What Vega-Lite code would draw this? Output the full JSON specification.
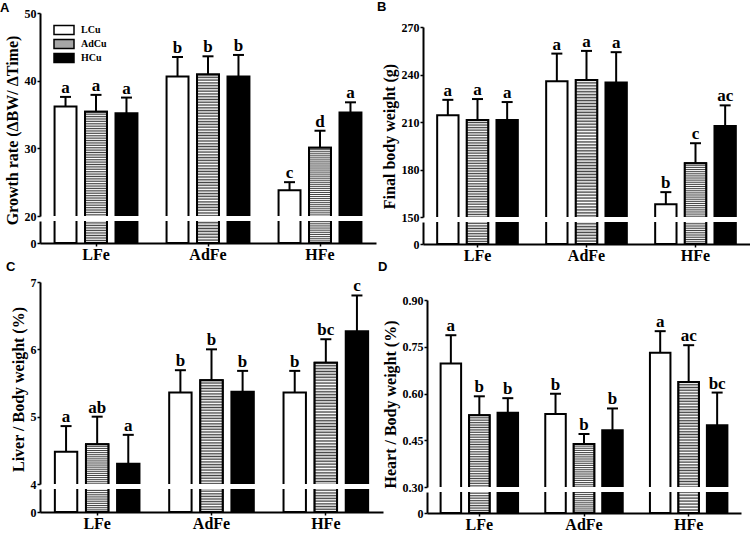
{
"$schema": "https://vega.github.io/schema/vega-lite/v6.json",
"padding": {"left": 0, "top": 0, "right": 0, "bottom": 0},
"background": "white",
"datasets": {
"A": [
{"Fe":"LFe","Cu":"LCu","mean":36.2,"hi":37.6,"lab":"a"},
{"Fe":"LFe","Cu":"AdCu","mean":35.4,"hi":37.9,"lab":"a"},
{"Fe":"LFe","Cu":"HCu","mean":35.2,"hi":37.5,"lab":"a"},
{"Fe":"AdFe","Cu":"LCu","mean":40.6,"hi":43.5,"lab":"b"},
{"Fe":"AdFe","Cu":"AdCu","mean":40.9,"hi":43.6,"lab":"b"},
{"Fe":"AdFe","Cu":"HCu","mean":40.6,"hi":43.8,"lab":"b"},
{"Fe":"HFe","Cu":"LCu","mean":23.8,"hi":25.0,"lab":"c"},
{"Fe":"HFe","Cu":"AdCu","mean":30.1,"hi":32.6,"lab":"d"},
{"Fe":"HFe","Cu":"HCu","mean":35.3,"hi":36.8,"lab":"a"}
],
"B": [
{"Fe":"LFe","Cu":"LCu","mean":214.2,"hi":224.0,"lab":"a"},
{"Fe":"LFe","Cu":"AdCu","mean":211.3,"hi":224.5,"lab":"a"},
{"Fe":"LFe","Cu":"HCu","mean":211.3,"hi":222.6,"lab":"a"},
{"Fe":"AdFe","Cu":"LCu","mean":235.8,"hi":253.2,"lab":"a"},
{"Fe":"AdFe","Cu":"AdCu","mean":236.6,"hi":254.9,"lab":"a"},
{"Fe":"AdFe","Cu":"HCu","mean":235.0,"hi":254.1,"lab":"a"},
{"Fe":"HFe","Cu":"LCu","mean":158.0,"hi":165.7,"lab":"b"},
{"Fe":"HFe","Cu":"AdCu","mean":184.0,"hi":196.6,"lab":"c"},
{"Fe":"HFe","Cu":"HCu","mean":207.5,"hi":220.5,"lab":"ac"}
],
"C": [
{"Fe":"LFe","Cu":"LCu","mean":4.48,"hi":4.86,"lab":"a"},
{"Fe":"LFe","Cu":"AdCu","mean":4.59,"hi":5.00,"lab":"ab"},
{"Fe":"LFe","Cu":"HCu","mean":4.30,"hi":4.73,"lab":"a"},
{"Fe":"AdFe","Cu":"LCu","mean":5.36,"hi":5.69,"lab":"b"},
{"Fe":"AdFe","Cu":"AdCu","mean":5.54,"hi":6.00,"lab":"b"},
{"Fe":"AdFe","Cu":"HCu","mean":5.37,"hi":5.68,"lab":"b"},
{"Fe":"HFe","Cu":"LCu","mean":5.36,"hi":5.68,"lab":"b"},
{"Fe":"HFe","Cu":"AdCu","mean":5.80,"hi":6.15,"lab":"bc"},
{"Fe":"HFe","Cu":"HCu","mean":6.27,"hi":6.80,"lab":"c"}
],
"D": [
{"Fe":"LFe","Cu":"LCu","mean":0.696,"hi":0.787,"lab":"a"},
{"Fe":"LFe","Cu":"AdCu","mean":0.530,"hi":0.591,"lab":"b"},
{"Fe":"LFe","Cu":"HCu","mean":0.538,"hi":0.585,"lab":"b"},
{"Fe":"AdFe","Cu":"LCu","mean":0.534,"hi":0.599,"lab":"b"},
{"Fe":"AdFe","Cu":"AdCu","mean":0.438,"hi":0.470,"lab":"b"},
{"Fe":"AdFe","Cu":"HCu","mean":0.482,"hi":0.552,"lab":"b"},
{"Fe":"HFe","Cu":"LCu","mean":0.731,"hi":0.800,"lab":"a"},
{"Fe":"HFe","Cu":"AdCu","mean":0.637,"hi":0.755,"lab":"ac"},
{"Fe":"HFe","Cu":"HCu","mean":0.498,"hi":0.603,"lab":"bc"}
]
},
"config": {
"font": "Liberation Serif",
"view": {"stroke": null},
"axis": {"domainColor": "black", "domainWidth": 2, "tickColor": "black", "tickWidth": 1.5, "tickSize": 3, "labelColor": "black", "labelFont": "Liberation Serif", "labelFontWeight": "bold", "labelFontSize": 12, "labelPadding": 1, "titleFont": "Liberation Serif", "titleFontWeight": "bold", "titleFontSize": 16, "titleColor": "black", "grid": false, "titlePadding": 4},
"axisX": {"labelFontSize": 16, "labelPadding": 0, "labelAngle": 0},
"legend": {"orient": "none", "legendX": 18, "legendY": 11, "title": null, "labelFont": "Liberation Serif", "labelFontSize": 10, "labelFontWeight": "bold", "labelColor": "black", "symbolType": "M-2,-0.9H2V0.9H-2Z", "symbolSize": 100, "symbolStrokeColor": "black", "symbolStrokeWidth": 1.5, "rowPadding": -8, "labelOffset": 11},
"title": {"font": "Liberation Sans", "fontSize": 13, "fontWeight": "bold", "color": "black", "anchor": "start", "frame": "bounds"},
"mark": {"color": {"gradient": "linear", "x1": 0, "y1": 0, "x2": 0, "y2": 1, "stops": [
{"offset":0,"color":"#444"},{"offset":0.005,"color":"#fff"},{"offset":0.01,"color":"#444"},{"offset":0.015,"color":"#fff"},{"offset":0.02,"color":"#444"},{"offset":0.025,"color":"#fff"},{"offset":0.03,"color":"#444"},{"offset":0.035,"color":"#fff"},{"offset":0.04,"color":"#444"},{"offset":0.045,"color":"#fff"},
{"offset":0.05,"color":"#444"},{"offset":0.055,"color":"#fff"},{"offset":0.06,"color":"#444"},{"offset":0.065,"color":"#fff"},{"offset":0.07,"color":"#444"},{"offset":0.075,"color":"#fff"},{"offset":0.08,"color":"#444"},{"offset":0.085,"color":"#fff"},{"offset":0.09,"color":"#444"},{"offset":0.095,"color":"#fff"},
{"offset":0.1,"color":"#444"},{"offset":0.105,"color":"#fff"},{"offset":0.11,"color":"#444"},{"offset":0.115,"color":"#fff"},{"offset":0.12,"color":"#444"},{"offset":0.125,"color":"#fff"},{"offset":0.13,"color":"#444"},{"offset":0.135,"color":"#fff"},{"offset":0.14,"color":"#444"},{"offset":0.145,"color":"#fff"},
{"offset":0.15,"color":"#444"},{"offset":0.155,"color":"#fff"},{"offset":0.16,"color":"#444"},{"offset":0.165,"color":"#fff"},{"offset":0.17,"color":"#444"},{"offset":0.175,"color":"#fff"},{"offset":0.18,"color":"#444"},{"offset":0.185,"color":"#fff"},{"offset":0.19,"color":"#444"},{"offset":0.195,"color":"#fff"},
{"offset":0.2,"color":"#444"},{"offset":0.205,"color":"#fff"},{"offset":0.21,"color":"#444"},{"offset":0.215,"color":"#fff"},{"offset":0.22,"color":"#444"},{"offset":0.225,"color":"#fff"},{"offset":0.23,"color":"#444"},{"offset":0.235,"color":"#fff"},{"offset":0.24,"color":"#444"},{"offset":0.245,"color":"#fff"},
{"offset":0.25,"color":"#444"},{"offset":0.255,"color":"#fff"},{"offset":0.26,"color":"#444"},{"offset":0.265,"color":"#fff"},{"offset":0.27,"color":"#444"},{"offset":0.275,"color":"#fff"},{"offset":0.28,"color":"#444"},{"offset":0.285,"color":"#fff"},{"offset":0.29,"color":"#444"},{"offset":0.295,"color":"#fff"},
{"offset":0.3,"color":"#444"},{"offset":0.305,"color":"#fff"},{"offset":0.31,"color":"#444"},{"offset":0.315,"color":"#fff"},{"offset":0.32,"color":"#444"},{"offset":0.325,"color":"#fff"},{"offset":0.33,"color":"#444"},{"offset":0.335,"color":"#fff"},{"offset":0.34,"color":"#444"},{"offset":0.345,"color":"#fff"},
{"offset":0.35,"color":"#444"},{"offset":0.355,"color":"#fff"},{"offset":0.36,"color":"#444"},{"offset":0.365,"color":"#fff"},{"offset":0.37,"color":"#444"},{"offset":0.375,"color":"#fff"},{"offset":0.38,"color":"#444"},{"offset":0.385,"color":"#fff"},{"offset":0.39,"color":"#444"},{"offset":0.395,"color":"#fff"},
{"offset":0.4,"color":"#444"},{"offset":0.405,"color":"#fff"},{"offset":0.41,"color":"#444"},{"offset":0.415,"color":"#fff"},{"offset":0.42,"color":"#444"},{"offset":0.425,"color":"#fff"},{"offset":0.43,"color":"#444"},{"offset":0.435,"color":"#fff"},{"offset":0.44,"color":"#444"},{"offset":0.445,"color":"#fff"},
{"offset":0.45,"color":"#444"},{"offset":0.455,"color":"#fff"},{"offset":0.46,"color":"#444"},{"offset":0.465,"color":"#fff"},{"offset":0.47,"color":"#444"},{"offset":0.475,"color":"#fff"},{"offset":0.48,"color":"#444"},{"offset":0.485,"color":"#fff"},{"offset":0.49,"color":"#444"},{"offset":0.495,"color":"#fff"},
{"offset":0.5,"color":"#444"},{"offset":0.505,"color":"#fff"},{"offset":0.51,"color":"#444"},{"offset":0.515,"color":"#fff"},{"offset":0.52,"color":"#444"},{"offset":0.525,"color":"#fff"},{"offset":0.53,"color":"#444"},{"offset":0.535,"color":"#fff"},{"offset":0.54,"color":"#444"},{"offset":0.545,"color":"#fff"},
{"offset":0.55,"color":"#444"},{"offset":0.555,"color":"#fff"},{"offset":0.56,"color":"#444"},{"offset":0.565,"color":"#fff"},{"offset":0.57,"color":"#444"},{"offset":0.575,"color":"#fff"},{"offset":0.58,"color":"#444"},{"offset":0.585,"color":"#fff"},{"offset":0.59,"color":"#444"},{"offset":0.595,"color":"#fff"},
{"offset":0.6,"color":"#444"},{"offset":0.605,"color":"#fff"},{"offset":0.61,"color":"#444"},{"offset":0.615,"color":"#fff"},{"offset":0.62,"color":"#444"},{"offset":0.625,"color":"#fff"},{"offset":0.63,"color":"#444"},{"offset":0.635,"color":"#fff"},{"offset":0.64,"color":"#444"},{"offset":0.645,"color":"#fff"},
{"offset":0.65,"color":"#444"},{"offset":0.655,"color":"#fff"},{"offset":0.66,"color":"#444"},{"offset":0.665,"color":"#fff"},{"offset":0.67,"color":"#444"},{"offset":0.675,"color":"#fff"},{"offset":0.68,"color":"#444"},{"offset":0.685,"color":"#fff"},{"offset":0.69,"color":"#444"},{"offset":0.695,"color":"#fff"},
{"offset":0.7,"color":"#444"},{"offset":0.705,"color":"#fff"},{"offset":0.71,"color":"#444"},{"offset":0.715,"color":"#fff"},{"offset":0.72,"color":"#444"},{"offset":0.725,"color":"#fff"},{"offset":0.73,"color":"#444"},{"offset":0.735,"color":"#fff"},{"offset":0.74,"color":"#444"},{"offset":0.745,"color":"#fff"},
{"offset":0.75,"color":"#444"},{"offset":0.755,"color":"#fff"},{"offset":0.76,"color":"#444"},{"offset":0.765,"color":"#fff"},{"offset":0.77,"color":"#444"},{"offset":0.775,"color":"#fff"},{"offset":0.78,"color":"#444"},{"offset":0.785,"color":"#fff"},{"offset":0.79,"color":"#444"},{"offset":0.795,"color":"#fff"},
{"offset":0.8,"color":"#444"},{"offset":0.805,"color":"#fff"},{"offset":0.81,"color":"#444"},{"offset":0.815,"color":"#fff"},{"offset":0.82,"color":"#444"},{"offset":0.825,"color":"#fff"},{"offset":0.83,"color":"#444"},{"offset":0.835,"color":"#fff"},{"offset":0.84,"color":"#444"},{"offset":0.845,"color":"#fff"},
{"offset":0.85,"color":"#444"},{"offset":0.855,"color":"#fff"},{"offset":0.86,"color":"#444"},{"offset":0.865,"color":"#fff"},{"offset":0.87,"color":"#444"},{"offset":0.875,"color":"#fff"},{"offset":0.88,"color":"#444"},{"offset":0.885,"color":"#fff"},{"offset":0.89,"color":"#444"},{"offset":0.895,"color":"#fff"},
{"offset":0.9,"color":"#444"},{"offset":0.905,"color":"#fff"},{"offset":0.91,"color":"#444"},{"offset":0.915,"color":"#fff"},{"offset":0.92,"color":"#444"},{"offset":0.925,"color":"#fff"},{"offset":0.93,"color":"#444"},{"offset":0.935,"color":"#fff"},{"offset":0.94,"color":"#444"},{"offset":0.945,"color":"#fff"},
{"offset":0.95,"color":"#444"},{"offset":0.955,"color":"#fff"},{"offset":0.96,"color":"#444"},{"offset":0.965,"color":"#fff"},{"offset":0.97,"color":"#444"},{"offset":0.975,"color":"#fff"},{"offset":0.98,"color":"#444"},{"offset":0.985,"color":"#fff"},{"offset":0.99,"color":"#444"},{"offset":0.995,"color":"#fff"},
{"offset":1,"color":"#444"}
]}}
},
"resolve": {"scale": {"xOffset": "independent"}},
"spacing": -2,
"vconcat": [
{"hconcat": [
{"title": {"text": "A", "offset": -8, "dx": -4},
 "bounds": "flush", "spacing": 5,
 "resolve": {"scale": {"xOffset": "independent"}},
 "vconcat": [
 {"width": 336, "height": 203, "data": {"name": "A"},
  "encoding": {
   "x": {"field": "Fe", "type": "nominal", "scale": {"domain": ["LFe","AdFe","HFe"], "paddingInner": 0.26, "paddingOuter": 0.13}, "axis": null},
   "xOffset": {"field": "Cu", "type": "nominal", "scale": {"domain": ["LCu","AdCu","HCu"], "paddingInner": 0.28, "paddingOuter": 0}},
   "y": {"field": "mean", "type": "quantitative", "scale": {"domain": [20, 50]}, "axis": {"values": [20,30,40,50], "title": "Growth rate (ΔBW/ ΔTime)", "titleY": 117}}
  },
  "layer": [
   {"mark": {"type": "bar", "clip": true, "stroke": "black", "strokeWidth": 2, "opacity": 1},
    "encoding": {
     "y2": {"datum": 0},
     "fill": {"field": "Cu", "type": "nominal", "legend": {"title": null},
      "scale": {"domain": ["LCu","AdCu","HCu"], "range": ["white", "#a6a6a6", "black"]}}
    }},
   {"transform": [{"filter": "datum.Cu == 'AdCu'"}], "mark": {"type": "bar", "clip": true, "stroke": "black", "strokeWidth": 2, "opacity": 1}, "encoding": {"y2": {"datum": 0}}},
   {"mark": {"type": "rule", "strokeWidth": 2, "color": "black"}, "encoding": {"y2": {"field": "hi"}}},
   {"mark": {"type": "tick", "thickness": 2, "size": 11, "color": "black", "opacity": 1}, "encoding": {"y": {"field": "hi", "type": "quantitative"}}},
   {"mark": {"type": "text", "dy": -4, "baseline": "alphabetic", "fontSize": 17, "fontWeight": "bold", "font": "Liberation Serif", "color": "black"}, "encoding": {"y": {"field": "hi", "type": "quantitative"}, "text": {"field": "lab"}}}
  ]
 },
 {"width": 336, "height": 22, "data": {"name": "A"},
  "encoding": {
   "x": {"field": "Fe", "type": "nominal", "scale": {"domain": ["LFe","AdFe","HFe"], "paddingInner": 0.26, "paddingOuter": 0.13}, "axis": {"title": null}},
   "xOffset": {"field": "Cu", "type": "nominal", "scale": {"domain": ["LCu","AdCu","HCu"], "paddingInner": 0.28, "paddingOuter": 0}},
   "y": {"field": "mean", "type": "quantitative", "scale": {"domain": [0, 3.1]}, "axis": {"values": [0], "format": "d", "title": null}},
   "y2": {"datum": 0}
  },
  "layer": [
   {"mark": {"type": "bar", "clip": true, "stroke": "black", "strokeWidth": 2, "opacity": 1}, "encoding": {"fill": {"field": "Cu", "type": "nominal"}}},
   {"transform": [{"filter": "datum.Cu == 'AdCu'"}], "mark": {"type": "bar", "clip": true, "stroke": "black", "strokeWidth": 2, "opacity": 1}}
  ]
 }
 ]
},
{"title": {"text": "B", "offset": -2, "dx": -4},
 "bounds": "flush", "spacing": 5,
 "resolve": {"scale": {"xOffset": "independent"}},
 "vconcat": [
 {"width": 327, "height": 9, "data": {"name": "B"}, "mark": {"type": "text", "opacity": 0}, "encoding": {}},
 {"width": 327, "height": 190, "data": {"name": "B"},
  "encoding": {
   "x": {"field": "Fe", "type": "nominal", "scale": {"domain": ["LFe","AdFe","HFe"], "paddingInner": 0.26, "paddingOuter": 0.13}, "axis": null},
   "xOffset": {"field": "Cu", "type": "nominal", "scale": {"domain": ["LCu","AdCu","HCu"], "paddingInner": 0.28, "paddingOuter": 0}},
   "y": {"field": "mean", "type": "quantitative", "scale": {"domain": [150, 270]}, "axis": {"values": [150,180,210,240,270], "title": "Final body weight (g)", "titleY": 109}}
  },
  "layer": [
   {"mark": {"type": "bar", "clip": true, "stroke": "black", "strokeWidth": 2, "opacity": 1},
    "encoding": {"y2": {"datum": 50}, "fill": {"field": "Cu", "type": "nominal"}}},
   {"transform": [{"filter": "datum.Cu == 'AdCu'"}], "mark": {"type": "bar", "clip": true, "stroke": "black", "strokeWidth": 2, "opacity": 1}, "encoding": {"y2": {"datum": 50}}},
   {"mark": {"type": "rule", "strokeWidth": 2, "color": "black"}, "encoding": {"y2": {"field": "hi"}}},
   {"mark": {"type": "tick", "thickness": 2, "size": 11, "color": "black", "opacity": 1}, "encoding": {"y": {"field": "hi", "type": "quantitative"}}},
   {"mark": {"type": "text", "dy": -4, "baseline": "alphabetic", "fontSize": 17, "fontWeight": "bold", "font": "Liberation Serif", "color": "black"}, "encoding": {"y": {"field": "hi", "type": "quantitative"}, "text": {"field": "lab"}}}
  ]
 },
 {"width": 327, "height": 22, "data": {"name": "B"},
  "encoding": {
   "x": {"field": "Fe", "type": "nominal", "scale": {"domain": ["LFe","AdFe","HFe"], "paddingInner": 0.26, "paddingOuter": 0.13}, "axis": {"title": null}},
   "xOffset": {"field": "Cu", "type": "nominal", "scale": {"domain": ["LCu","AdCu","HCu"], "paddingInner": 0.28, "paddingOuter": 0}},
   "y": {"field": "mean", "type": "quantitative", "scale": {"domain": [0, 18]}, "axis": {"values": [0], "format": "d", "title": null}},
   "y2": {"datum": 0}
  },
  "layer": [
   {"mark": {"type": "bar", "clip": true, "stroke": "black", "strokeWidth": 2, "opacity": 1}, "encoding": {"fill": {"field": "Cu", "type": "nominal"}}},
   {"transform": [{"filter": "datum.Cu == 'AdCu'"}], "mark": {"type": "bar", "clip": true, "stroke": "black", "strokeWidth": 2, "opacity": 1}}
  ]
 }
 ]
}
], "spacing": 1, "resolve": {"scale": {"xOffset": "independent"}}},
{"hconcat": [
{"title": {"text": "C", "offset": 2, "dx": -4},
 "bounds": "flush", "spacing": 5,
 "resolve": {"scale": {"xOffset": "independent"}},
 "vconcat": [
 {"width": 343, "height": 202, "data": {"name": "C"},
  "encoding": {
   "x": {"field": "Fe", "type": "nominal", "scale": {"domain": ["LFe","AdFe","HFe"], "paddingInner": 0.26, "paddingOuter": 0.13}, "axis": null},
   "xOffset": {"field": "Cu", "type": "nominal", "scale": {"domain": ["LCu","AdCu","HCu"], "paddingInner": 0.28, "paddingOuter": 0}},
   "y": {"field": "mean", "type": "quantitative", "scale": {"domain": [4, 7]}, "axis": {"values": [4,5,6,7], "title": "Liver / Body weight (%)", "titleY": 107}}
  },
  "layer": [
   {"mark": {"type": "bar", "clip": true, "stroke": "black", "strokeWidth": 2, "opacity": 1},
    "encoding": {"y2": {"datum": 1.5}, "fill": {"field": "Cu", "type": "nominal"}}},
   {"transform": [{"filter": "datum.Cu == 'AdCu'"}], "mark": {"type": "bar", "clip": true, "stroke": "black", "strokeWidth": 2, "opacity": 1}, "encoding": {"y2": {"datum": 1.5}}},
   {"mark": {"type": "rule", "strokeWidth": 2, "color": "black"}, "encoding": {"y2": {"field": "hi"}}},
   {"mark": {"type": "tick", "thickness": 2, "size": 11, "color": "black", "opacity": 1}, "encoding": {"y": {"field": "hi", "type": "quantitative"}}},
   {"mark": {"type": "text", "dy": -4, "baseline": "alphabetic", "fontSize": 17, "fontWeight": "bold", "font": "Liberation Serif", "color": "black"}, "encoding": {"y": {"field": "hi", "type": "quantitative"}, "text": {"field": "lab"}}}
  ]
 },
 {"width": 343, "height": 23, "data": {"name": "C"},
  "encoding": {
   "x": {"field": "Fe", "type": "nominal", "scale": {"domain": ["LFe","AdFe","HFe"], "paddingInner": 0.26, "paddingOuter": 0.13}, "axis": {"title": null}},
   "xOffset": {"field": "Cu", "type": "nominal", "scale": {"domain": ["LCu","AdCu","HCu"], "paddingInner": 0.28, "paddingOuter": 0}},
   "y": {"field": "mean", "type": "quantitative", "scale": {"domain": [0, 0.49]}, "axis": {"values": [0], "format": "d", "title": null}},
   "y2": {"datum": 0}
  },
  "layer": [
   {"mark": {"type": "bar", "clip": true, "stroke": "black", "strokeWidth": 2, "opacity": 1}, "encoding": {"fill": {"field": "Cu", "type": "nominal"}}},
   {"transform": [{"filter": "datum.Cu == 'AdCu'"}], "mark": {"type": "bar", "clip": true, "stroke": "black", "strokeWidth": 2, "opacity": 1}}
  ]
 }
 ]
},
{"title": {"text": "D", "offset": 8, "dx": -4},
 "bounds": "flush", "spacing": 5,
 "resolve": {"scale": {"xOffset": "independent"}},
 "vconcat": [
 {"width": 314, "height": 13, "data": {"name": "D"}, "mark": {"type": "text", "opacity": 0}, "encoding": {}},
 {"width": 314, "height": 187, "data": {"name": "D"},
  "encoding": {
   "x": {"field": "Fe", "type": "nominal", "scale": {"domain": ["LFe","AdFe","HFe"], "paddingInner": 0.26, "paddingOuter": 0.13}, "axis": null},
   "xOffset": {"field": "Cu", "type": "nominal", "scale": {"domain": ["LCu","AdCu","HCu"], "paddingInner": 0.28, "paddingOuter": 0}},
   "y": {"field": "mean", "type": "quantitative", "scale": {"domain": [0.3, 0.9]}, "axis": {"values": [0.3,0.45,0.6,0.75,0.9], "format": ".2f", "title": "Heart / Body weight (%)", "titleY": 104}}
  },
  "layer": [
   {"mark": {"type": "bar", "clip": true, "stroke": "black", "strokeWidth": 2, "opacity": 1},
    "encoding": {"y2": {"datum": -0.25}, "fill": {"field": "Cu", "type": "nominal"}}},
   {"transform": [{"filter": "datum.Cu == 'AdCu'"}], "mark": {"type": "bar", "clip": true, "stroke": "black", "strokeWidth": 2, "opacity": 1}, "encoding": {"y2": {"datum": -0.25}}},
   {"mark": {"type": "rule", "strokeWidth": 2, "color": "black"}, "encoding": {"y2": {"field": "hi"}}},
   {"mark": {"type": "tick", "thickness": 2, "size": 11, "color": "black", "opacity": 1}, "encoding": {"y": {"field": "hi", "type": "quantitative"}}},
   {"mark": {"type": "text", "dy": -4, "baseline": "alphabetic", "fontSize": 17, "fontWeight": "bold", "font": "Liberation Serif", "color": "black"}, "encoding": {"y": {"field": "hi", "type": "quantitative"}, "text": {"field": "lab"}}}
  ]
 },
 {"width": 314, "height": 21, "data": {"name": "D"},
  "encoding": {
   "x": {"field": "Fe", "type": "nominal", "scale": {"domain": ["LFe","AdFe","HFe"], "paddingInner": 0.26, "paddingOuter": 0.13}, "axis": {"title": null}},
   "xOffset": {"field": "Cu", "type": "nominal", "scale": {"domain": ["LCu","AdCu","HCu"], "paddingInner": 0.28, "paddingOuter": 0}},
   "y": {"field": "mean", "type": "quantitative", "scale": {"domain": [0, 0.045]}, "axis": {"values": [0], "format": "d", "title": null}},
   "y2": {"datum": 0}
  },
  "layer": [
   {"mark": {"type": "bar", "clip": true, "stroke": "black", "strokeWidth": 2, "opacity": 1}, "encoding": {"fill": {"field": "Cu", "type": "nominal"}}},
   {"transform": [{"filter": "datum.Cu == 'AdCu'"}], "mark": {"type": "bar", "clip": true, "stroke": "black", "strokeWidth": 2, "opacity": 1}}
  ]
 }
 ]
}
], "spacing": -5, "resolve": {"scale": {"xOffset": "independent"}}}
]
}
